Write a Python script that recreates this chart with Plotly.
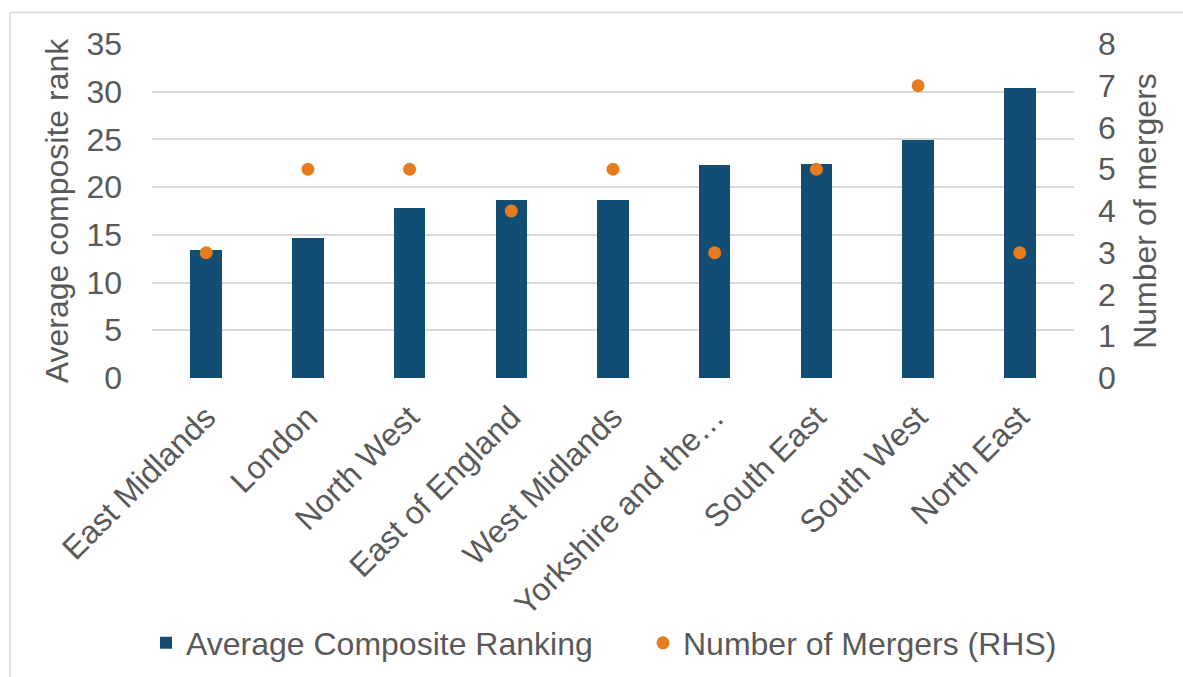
import plotly.graph_objects as go

# Regions, ordered by average composite rank
regions = [
    "East Midlands", "London", "North West", "East of England", "West Midlands",
    "Yorkshire and the…", "South East", "South West", "North East",
]
avg_rank = [13.4, 14.7, 17.8, 18.7, 18.7, 22.3, 22.4, 24.9, 30.4]
mergers = [3, 5, 5, 4, 5, 3, 5, 7, 3]

left_ticks = [0, 5, 10, 15, 20, 25, 30, 35]
right_ticks = [0, 1, 2, 3, 4, 5, 6, 7, 8]

BAR = "#124E73"
ORANGE = "#E77C1E"
GREY_TXT = "#595959"
GRID = "#D9D9D9"
FONT = "Liberation Sans, Arial, sans-serif"
FS = 32

fig = go.Figure()
fig.add_trace(go.Bar(
    x=regions, y=avg_rank, name="Average Composite Ranking",
    marker=dict(color=BAR, line=dict(width=0)), width=0.31, yaxis="y",
))
fig.add_trace(go.Scatter(
    x=regions, y=mergers, name="Number of Mergers (RHS)", mode="markers",
    marker=dict(color=ORANGE, size=13), yaxis="y2",
))

W, H = 1183, 677
ml, mr, mt, mb = 152, 109, 44, 299

fig.update_layout(
    width=W, height=H,
    margin=dict(l=ml, r=mr, t=mt, b=mb, pad=0, autoexpand=False),
    paper_bgcolor="white", plot_bgcolor="white",
    font=dict(family=FONT, size=FS, color=GREY_TXT),
    showlegend=True,
    legend=dict(
        orientation="h", x=(146 - ml) / (W - ml - mr), xanchor="left",
        y=-(643 - (H - mb)) / (H - mt - mb), yanchor="middle",
        font=dict(size=FS, color=GREY_TXT), bgcolor="rgba(0,0,0,0)",
        entrywidth=452, entrywidthmode="pixels", itemclick=False,
    ),
    xaxis=dict(
        type="category", tickangle=-45, showgrid=False, zeroline=False,
        showline=False, ticks="", tickfont=dict(size=FS, color=GREY_TXT),
        ticklabelstandoff=13, automargin=False,
    ),
    yaxis=dict(
        range=[0, 35], tickvals=left_ticks, showgrid=True, gridcolor=GRID,
        gridwidth=1.5, zeroline=False, showline=False, ticks="",
        ticklabelstandoff=29, automargin=False,
        title=dict(text="Average composite rank", standoff=8,
                   font=dict(size=FS, color=GREY_TXT)),
    ),
    yaxis2=dict(
        range=[0, 8], tickvals=right_ticks, overlaying="y", side="right",
        showgrid=False, zeroline=False, showline=False, ticks="",
        ticklabelstandoff=23, automargin=False,
        title=dict(text="Number of mergers", standoff=18,
                   font=dict(size=FS, color=GREY_TXT)),
    ),
    bargap=0,
)

# Chart-area border (top and left edges visible within the canvas)
pw, ph = W - ml - mr, H - mt - mb
def px_x(v):
    return (v - ml) / pw
def px_y(v):
    return (H - mb - v) / ph
fig.add_shape(type="line", xref="paper", yref="paper",
              x0=px_x(10), x1=px_x(1200), y0=px_y(12.5), y1=px_y(12.5),
              line=dict(color="#D9D9D9", width=1.5))
fig.add_shape(type="line", xref="paper", yref="paper",
              x0=px_x(10), x1=px_x(10), y0=px_y(12.5), y1=px_y(700),
              line=dict(color="#D9D9D9", width=1.5))

fig.write_html("out.html")
